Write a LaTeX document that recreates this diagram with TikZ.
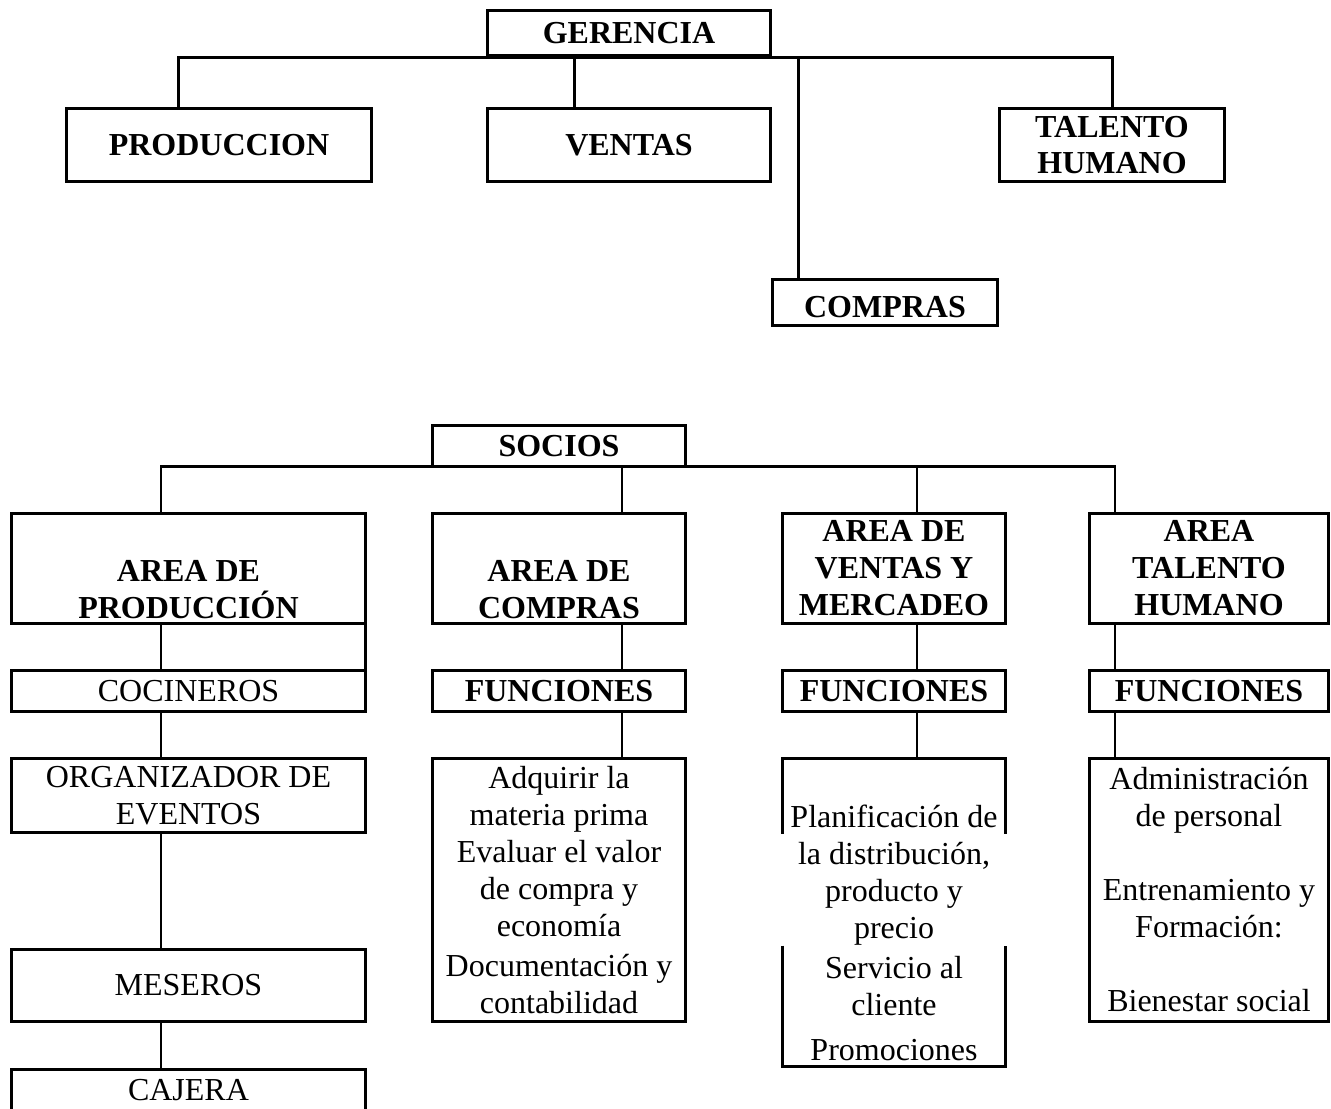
\documentclass[tikz,border=0pt]{standalone}
\usepackage{fontspec}
\setmainfont{Liberation Serif}
\usetikzlibrary{calc}
\tikzset{
  base/.style={inner sep=0pt, outer sep=0pt, align=center, font=\fontsize{24}{27.75}\selectfont},
  tbox/.style={base, draw, line width=2.5pt, font=\fontsize{24}{27}\selectfont\bfseries},
  bbox/.style={base, draw, line width=2pt},
  bboxb/.style={bbox, font=\fontsize{24}{27.75}\selectfont\bfseries},
  tline/.style={line width=2.25pt},
  bline/.style={line width=1.6pt},
  pline/.style={line width=2pt},
  sz/.style 2 args={minimum width=#1*0.75pt, minimum height=#2*0.75pt}
}
\begin{document}
\begin{tikzpicture}[x=0.75pt,y=-0.75pt]
\useasboundingbox (0,0) rectangle (1331,1109);
\clip (0,0) rectangle (1331,1109);
% ---------- top chart ----------
\node[tbox, sz={283}{45}] (ger) at (629,33) {GERENCIA};
\node[tbox, sz={305}{73}] (prod) at (219,145) {PRODUCCION};
\node[tbox, sz={283}{73}] (vent) at (629,145) {VENTAS};
\node[tbox, sz={225}{73}] (tal) at (1112,145) {TALENTO\\HUMANO};
\node[tbox, sz={225}{46}, text height=21.9pt, text depth=0pt] (comp) at (885,302.5) {COMPRAS};
\coordinate (gbus) at ($(ger.south)+(0,2.5)$);
\coordinate (tp) at ($(prod.north)+(-41,0)$);
\coordinate (tv) at ($(vent.north)+(-55,0)$);
\coordinate (tc) at ($(comp.north)+(-87,0)$);
\draw[tline] (tp) |- (gbus) -| (tal.north);
\draw[tline] (tv) -- (tv |- gbus);
\draw[tline] (tc) -- (tc |- gbus);
% ---------- bottom chart ----------
\node[bboxb, sz={253}{41}] (soc) at (559,446) {SOCIOS};
\node[bboxb, sz={354}{110}] (aprod) at (188.5,568.5) {\strut\\AREA DE\\PRODUCCIÓN};
\node[bboxb, sz={253}{110}] (acomp) at (559,568.5) {\strut\\AREA DE\\COMPRAS};
\node[bboxb, sz={223}{110}] (avent) at (894,568.5) {AREA DE\\VENTAS Y\\MERCADEO};
\node[bboxb, sz={239}{110}] (atal) at (1209,568.5) {AREA\\TALENTO\\HUMANO};
\node[bbox, sz={354}{41}] (coc) at (188.5,691) {COCINEROS};
\node[bboxb, sz={253}{41}] (fcomp) at (559,691) {FUNCIONES};
\node[bboxb, sz={223}{41}] (fvent) at (894,691) {FUNCIONES};
\node[bboxb, sz={239}{41}] (ftal) at (1209,691) {FUNCIONES};
\node[bbox, sz={354}{74}] (org) at (188.5,795.5) {ORGANIZADOR DE\\EVENTOS};
\node[bbox, sz={354}{72}] (mes) at (188.5,985.5) {MESEROS};
\node[bbox, sz={354}{42}] (caj) at (188.5,1090.5) {CAJERA};
\node[bbox, sz={253}{263}] (lcomp) at (559,890) {Adquirir la\\materia prima\\Evaluar el valor\\de compra y\\economía\\[2pt]Documentación y\\contabilidad};
\node[base, sz={223}{308}] (lvent) at (894,912.5) {\strut\\Planificación de\\la distribución,\\producto y\\precio\\[2.25pt]Servicio al\\cliente\\[6pt]Promociones};
\node[bbox, sz={239}{263}] (ltal) at (1209,890) {Administración\\de personal\\\mbox{}\\Entrenamiento y\\Formación:\\\mbox{}\\Bienestar social};
% broken frame of the sales functions box
\draw[line width=2pt] ($(lvent.north west)+(0,75)$) -- (lvent.north west) -- (lvent.north east) -- ($(lvent.north east)+(0,75)$);
\draw[line width=2pt] ($(lvent.south west)+(0,-121)$) -- (lvent.south west) -- (lvent.south east) -- ($(lvent.south east)+(0,-121)$);
% connectors
\coordinate (b1) at ($(aprod.north)+(-27.5,0)$);
\coordinate (b2) at ($(acomp.north)+(63,0)$);
\coordinate (b3) at ($(avent.north)+(23,0)$);
\coordinate (b4) at ($(atal.north)+(-94,0)$);
\draw[bline] (b1) |- (soc.south) -| (b4);
\draw[bline] (b2) -- (b2 |- soc.south);
\draw[bline] (b3) -- (b3 |- soc.south);
\draw[pline] (aprod.south -| b1) -- (coc.north -| b1);
\draw[pline] (aprod.south east) -- (coc.north east);
\draw[pline] (coc.south -| b1) -- (org.north -| b1);
\draw[bline] (org.south -| b1) -- (mes.north -| b1);
\draw[pline] (mes.south -| b1) -- (caj.north -| b1);
\draw[bline] (acomp.south -| b2) -- (fcomp.north -| b2);
\draw[bline] (fcomp.south -| b2) -- (lcomp.north -| b2);
\draw[bline] (avent.south -| b3) -- (fvent.north -| b3);
\draw[bline] (fvent.south -| b3) -- (lvent.north -| b3);
\draw[bline] (atal.south -| b4) -- (ftal.north -| b4);
\draw[bline] (ftal.south -| b4) -- (ltal.north -| b4);
\end{tikzpicture}
\end{document}
